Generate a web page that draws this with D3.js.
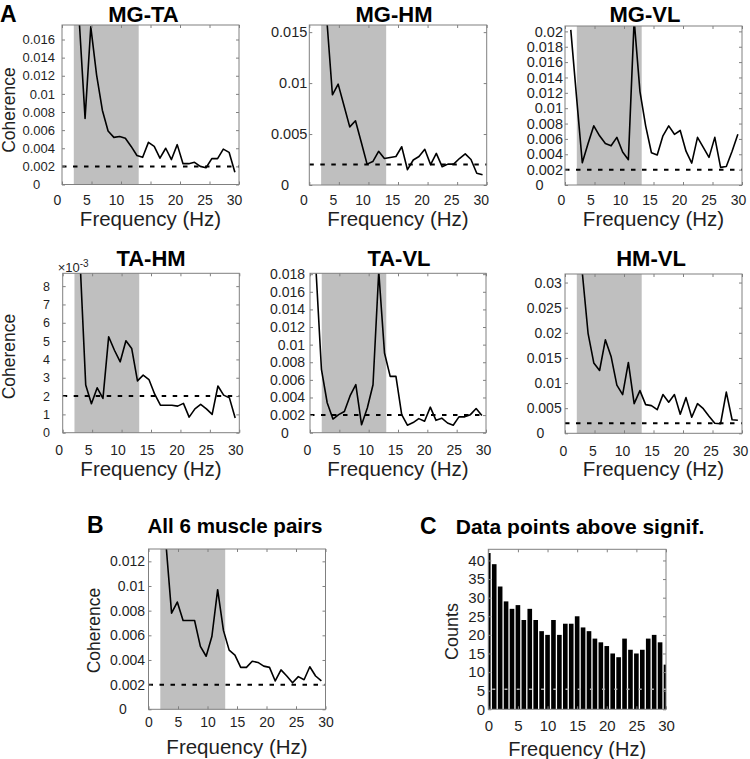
<!DOCTYPE html>
<html><head><meta charset="utf-8">
<script src="https://cdn.jsdelivr.net/npm/d3@7"></script>
<style>
html,body{margin:0;padding:0;background:#fff;}
svg{display:block;font-family:"Liberation Sans",Arial,Helvetica,sans-serif;}
</style></head><body>
<svg id="chart" width="750" height="759"></svg>
<script>
// ---------- DATA ----------
const freqs = [0.98, 1.95, 2.93, 3.91, 4.88, 5.86, 6.84, 7.81, 8.79, 9.77, 10.74, 11.72, 12.70, 13.67, 14.65,
               15.63, 16.60, 17.58, 18.55, 19.53, 20.51, 21.48, 22.46, 23.44, 24.41, 25.39, 26.37, 27.34, 28.32, 29.30];
const mgTA = [0.040, 0.025, 0.0180, 0.0073, 0.0174, 0.0121, 0.0082, 0.0059, 0.0052, 0.0053, 0.0051, 0.0042, 0.0032, 0.0030, 0.00465,
              0.0042, 0.0029, 0.0040, 0.00275, 0.0044, 0.0023, 0.0023, 0.00245, 0.0020, 0.00185, 0.00285, 0.00285, 0.0039, 0.00355, 0.00135];
const mgHM = [0.040, 0.025, 0.0165, 0.00885, 0.0099, 0.0078, 0.0057, 0.0063, 0.0042, 0.00205, 0.0023, 0.0033, 0.0026, 0.0027, 0.0028,
              0.00375, 0.0015, 0.00245, 0.0028, 0.0035, 0.0020, 0.0031, 0.0018, 0.00205, 0.00205, 0.0026, 0.00305, 0.0025, 0.00115, 0.0010];
const mgVL = [0.0202, 0.0115, 0.0029, 0.0054, 0.0077, 0.0064, 0.0054, 0.0051, 0.0062, 0.0043, 0.0033, 0.0215, 0.0122, 0.0077, 0.0042,
              0.0039, 0.0064, 0.0077, 0.0066, 0.0071, 0.0044, 0.00285, 0.0062, 0.0049, 0.0036, 0.0062, 0.0023, 0.0024, 0.0044, 0.0066];
const taHM = [0.030, 0.015, 0.0095, 0.0026, 0.00158, 0.00245, 0.00187, 0.00524, 0.0045, 0.00387, 0.00502, 0.0046, 0.00283, 0.00314, 0.0029,
              0.0021, 0.0015, 0.0015, 0.0015, 0.00145, 0.0016, 0.00085, 0.0013, 0.00155, 0.0013, 0.0010, 0.00255, 0.00205, 0.0019, 0.0008];
const taVL = [0.019, 0.0072, 0.0034, 0.00155, 0.00205, 0.0024, 0.0042, 0.00545, 0.0009, 0.0028, 0.00545, 0.0183, 0.00905, 0.0064, 0.0064,
              0.00205, 0.00085, 0.00115, 0.0016, 0.0013, 0.0029, 0.0014, 0.00165, 0.0011, 0.00085, 0.0018, 0.0018, 0.00205, 0.00275, 0.00195];
const hmVL = [0.060, 0.045, 0.032, 0.0199, 0.0140, 0.0125, 0.0186, 0.0153, 0.0096, 0.0077, 0.0141, 0.0059, 0.0085, 0.0057, 0.0055,
              0.0047, 0.0077, 0.0062, 0.0077, 0.0038, 0.0071, 0.0032, 0.0059, 0.0049, 0.0034, 0.0020, 0.0019, 0.0082, 0.0027, 0.0026];
const allPairs = [0.030, 0.020, 0.0136, 0.0078, 0.0087, 0.0072, 0.0072, 0.0072, 0.0051, 0.0043, 0.0059, 0.0097, 0.0064, 0.0048, 0.0044,
              0.0034, 0.0034, 0.0039, 0.0038, 0.0035, 0.0034, 0.0023, 0.0032, 0.0027, 0.00215, 0.00265, 0.0024, 0.00345, 0.0027, 0.0023];

const countBins = [0,1,2,3,4,5,6,7,8,9,10,11,12,13,14,15,16,17,18,19,20,21,22,23,24,25,26,27,28,29,30];
const counts = [42,39,33,29,27,28,24,27,24,21,20,24,20,23,23,25,22,21,19,18,17,15,14,19,16,15,16,19,20,18,12];

const bandLow = 2, bandHigh = 13;
const sigLevel = 0.002;
const countSig = 5.4;

const xTicks = [0,5,10,15,20,25,30];
const yTicksMGTA = [0,0.002,0.004,0.006,0.008,0.01,0.012,0.014,0.016];
const yTicksMGHM = [0,0.005,0.01,0.015];
const yTicksMGVL = [0,0.002,0.004,0.006,0.008,0.01,0.012,0.014,0.016,0.018,0.02];
const yTicksTAHM = [0,0.001,0.002,0.003,0.004,0.005,0.006,0.007,0.008];
const yTicksTAVL = [0,0.002,0.004,0.006,0.008,0.01,0.012,0.014,0.016,0.018];
const yTicksHMVL = [0,0.005,0.01,0.015,0.02,0.025,0.03];
const yTicksB = [0,0.002,0.004,0.006,0.008,0.01,0.012];
const countTicks = [0,5,10,15,20,25,30,35,40];

const titles = ["MG-TA","MG-HM","MG-VL","TA-HM","TA-VL","HM-VL","All 6 muscle pairs","Data points above signif."];

// ---------- LAYOUT ----------
const BOX = "#808080", TXT = "#1f1f1f";
const svg = d3.select("#chart");
const defs = svg.append("defs");
const fmt = v => v === 0 ? "0" : String(+v.toFixed(4));
const fmtExp = v => String(Math.round(v * 1000));

const panels = [
  {title:titles[0], values:mgTA, yTicks:yTicksMGTA, ymax:0.0176, box:[62,25,239,184.5], titleX:143.5, titleY:21.7,
   yFont:13, yGap:7, zeroDx:-25.3, xShift:-5, xPad:10.5, xFont:14, xLabelY:226, ylabel:[15,110]},
  {title:titles[1], values:mgHM, yTicks:yTicksMGHM, ymax:0.0157, box:[309.3,25,486.7,185], titleX:394, titleY:21.7,
   yFont:14.5, yGap:2, zeroDx:-24.3, xShift:-6, xPad:10.5, xFont:14, xLabelY:226},
  {title:titles[2], values:mgVL, yTicks:yTicksMGVL, ymax:0.0207, box:[565,26,742,185], titleX:645, titleY:21.7,
   yFont:14.5, yGap:2, zeroDx:-25.5, xShift:-4, xPad:10.5, xFont:14, xLabelY:226},
  {title:titles[3], values:taHM, yTicks:yTicksTAHM, ymax:0.0087, box:[62.7,273.3,239.3,432.7], titleX:151, titleY:266,
   yFont:12.5, yGap:12.7, zeroDx:null, xShift:-4, xPad:12.3, xFont:14, xLabelY:476, ylabel:[15,356.5], exp:true, tf:fmtExp},
  {title:titles[4], values:taVL, yTicks:yTicksTAVL, ymax:0.0181, box:[310,273.3,486,432.7], titleX:399, titleY:266,
   yFont:14, yGap:5, zeroDx:-25, xShift:-3, xPad:12.3, xFont:14, xLabelY:476},
  {title:titles[5], values:hmVL, yTicks:yTicksHMVL, ymax:0.0317, box:[565,274,742,433.3], titleX:651, titleY:266,
   yFont:14, yGap:3.3, zeroDx:-24.5, xShift:-2, xPad:12.3, xFont:14, xLabelY:476},
  {title:titles[6], values:allPairs, yTicks:yTicksB, ymax:0.013, box:[148.5,549,325.5,709.3], titleX:235, titleY:533,
   yFont:14, yGap:3.5, zeroDx:-25.5, xShift:0, xPad:7.4, xFont:14, xLabelY:754, ylabel:[99.5,630.5], titleSize:20.6}
];

function styleAxis(g){
  g.select(".domain").remove();
  g.selectAll(".tick line").attr("stroke", BOX);
  g.selectAll(".tick text").attr("fill", TXT);
}

function frame(g, x, y, box, xt, yt){
  const [L,T,R,B] = box;
  g.append("g").attr("transform",`translate(0,${T})`)
    .call(d3.axisTop(x).tickValues(xt).tickSize(-3).tickFormat("")).call(styleAxis);
  g.append("g").attr("transform",`translate(${R},0)`)
    .call(d3.axisRight(y).tickValues(yt).tickSize(-3).tickFormat("")).call(styleAxis);
  g.append("rect").attr("x",L).attr("y",T).attr("width",R-L).attr("height",B-T)
    .attr("fill","none").attr("stroke",BOX).attr("stroke-width",1);
}

panels.forEach((p,i) => {
  const [L,T,R,B] = p.box;
  const x = d3.scaleLinear().domain([0,30]).range([L,R]);
  const y = d3.scaleLinear().domain([0,p.ymax]).range([B,T]);
  const g = svg.append("g");
  const cid = "clip"+i;
  defs.append("clipPath").attr("id",cid).append("rect")
    .attr("x",L).attr("y",T).attr("width",R-L).attr("height",B-T);

  g.append("rect").attr("x",x(bandLow)).attr("y",T).attr("width",x(bandHigh)-x(bandLow)).attr("height",B-T)
    .attr("fill","#bfbfbf");
  g.append("line").attr("x1",L).attr("x2",R).attr("y1",y(sigLevel)).attr("y2",y(sigLevel))
    .attr("stroke","#000").attr("stroke-width",2).attr("stroke-dasharray","4.5,6.5");
  g.append("path").datum(freqs.map((f,k)=>[f,p.values[k]]))
    .attr("clip-path",`url(#${cid})`)
    .attr("d", d3.line().x(d=>x(d[0])).y(d=>y(d[1])))
    .attr("fill","none").attr("stroke","#000").attr("stroke-width",1.6).attr("stroke-linejoin","round");

  // bottom axis
  const gx = g.append("g").attr("transform",`translate(0,${B})`)
    .call(d3.axisBottom(x).tickValues(xTicks).tickSize(-3).tickPadding(p.xPad))
    .call(styleAxis);
  gx.selectAll(".tick text").attr("x",p.xShift).attr("font-size",p.xFont).attr("font-family",null);
  // left axis
  const gy = g.append("g").attr("transform",`translate(${L},0)`)
    .call(d3.axisLeft(y).tickValues(p.yTicks).tickSize(-3).tickPadding(p.yGap).tickFormat(p.tf || fmt))
    .call(styleAxis);
  gy.selectAll(".tick text").attr("font-size",p.yFont).attr("font-family",null);
  if (p.zeroDx !== null) {
    gy.selectAll(".tick").filter(d=>d===0).select("text").attr("text-anchor","middle").attr("x",p.zeroDx);
  }
  frame(g, x, y, p.box, xTicks, p.yTicks);

  // titles & labels
  g.append("text").attr("x",p.titleX).attr("y",p.titleY).attr("text-anchor","middle")
    .attr("font-weight","bold").attr("font-size",p.titleSize || 22).attr("fill","#000").text(p.title);
  g.append("text").attr("x",(L+R)/2).attr("y",p.xLabelY).attr("text-anchor","middle")
    .attr("font-size",20.5).attr("fill",TXT).text("Frequency (Hz)");
  if (p.ylabel) {
    g.append("text").attr("transform",`translate(${p.ylabel[0]},${p.ylabel[1]}) rotate(-90)`)
      .attr("text-anchor","middle").attr("font-size",17.5).attr("fill",TXT).text("Coherence");
  }
  if (p.exp) {
    const t = g.append("text").attr("x",L-5).attr("y",T-1.5).attr("font-size",13).attr("fill",TXT);
    t.append("tspan").text("\u00d710");
    t.append("tspan").attr("dy",-5).attr("font-size",10).text("-3");
  }
});

// ---------- Panel C ----------
(function(){
  const box = [488.3,549.3,666,709.3];
  const [L,T,R,B] = box;
  const x = d3.scaleLinear().domain([0,30]).range([L,R]);
  const y = d3.scaleLinear().domain([0,43]).range([B,T]);
  const g = svg.append("g");
  defs.append("clipPath").attr("id","clipC").append("rect")
    .attr("x",L).attr("y",T).attr("width",R-L).attr("height",B-T);
  const bw = (x(1)-x(0))*0.78;
  g.append("g").attr("clip-path","url(#clipC)").selectAll("rect").data(countBins).join("rect")
    .attr("x",d=>x(d)-bw/2).attr("width",bw)
    .attr("y",(d,k)=>y(counts[k])).attr("height",(d,k)=>B-y(counts[k]))
    .attr("fill","#000");
  g.append("line").attr("x1",L).attr("x2",R).attr("y1",y(countSig)).attr("y2",y(countSig))
    .attr("stroke","#b0b0b0").attr("stroke-width",1.5).attr("stroke-dasharray","3,9.2").attr("stroke-dashoffset",-4);

  const gx = g.append("g").attr("transform",`translate(0,${B})`)
    .call(d3.axisBottom(x).tickValues(xTicks).tickSize(-3).tickPadding(11.5)).call(styleAxis);
  gx.selectAll(".tick text").attr("font-size",15).attr("font-family",null);
  const gy = g.append("g").attr("transform",`translate(${L},0)`)
    .call(d3.axisLeft(y).tickValues(countTicks).tickSize(-3).tickPadding(3.3)).call(styleAxis);
  gy.selectAll(".tick text").attr("font-size",15).attr("font-family",null);
  frame(g, x, y, box, xTicks, countTicks);

  g.append("text").attr("x",580).attr("y",534).attr("text-anchor","middle")
    .attr("font-weight","bold").attr("font-size",21).attr("fill","#000").text(titles[7]);
  g.append("text").attr("x",(L+R)/2).attr("y",755.5).attr("text-anchor","middle")
    .attr("font-size",20).attr("fill",TXT).text("Frequency (Hz)");
  g.append("text").attr("transform",`translate(458,631.5) rotate(-90)`)
    .attr("text-anchor","middle").attr("font-size",18).attr("fill",TXT).text("Counts");
})();

// panel letters
[["A",0,22],["B",87,533],["C",420,534]].forEach(([t,xx,yy]) => {
  svg.append("text").attr("x",xx).attr("y",yy).attr("font-weight","bold").attr("font-size",23)
    .attr("fill","#000").text(t);
});
</script>
</body></html>
